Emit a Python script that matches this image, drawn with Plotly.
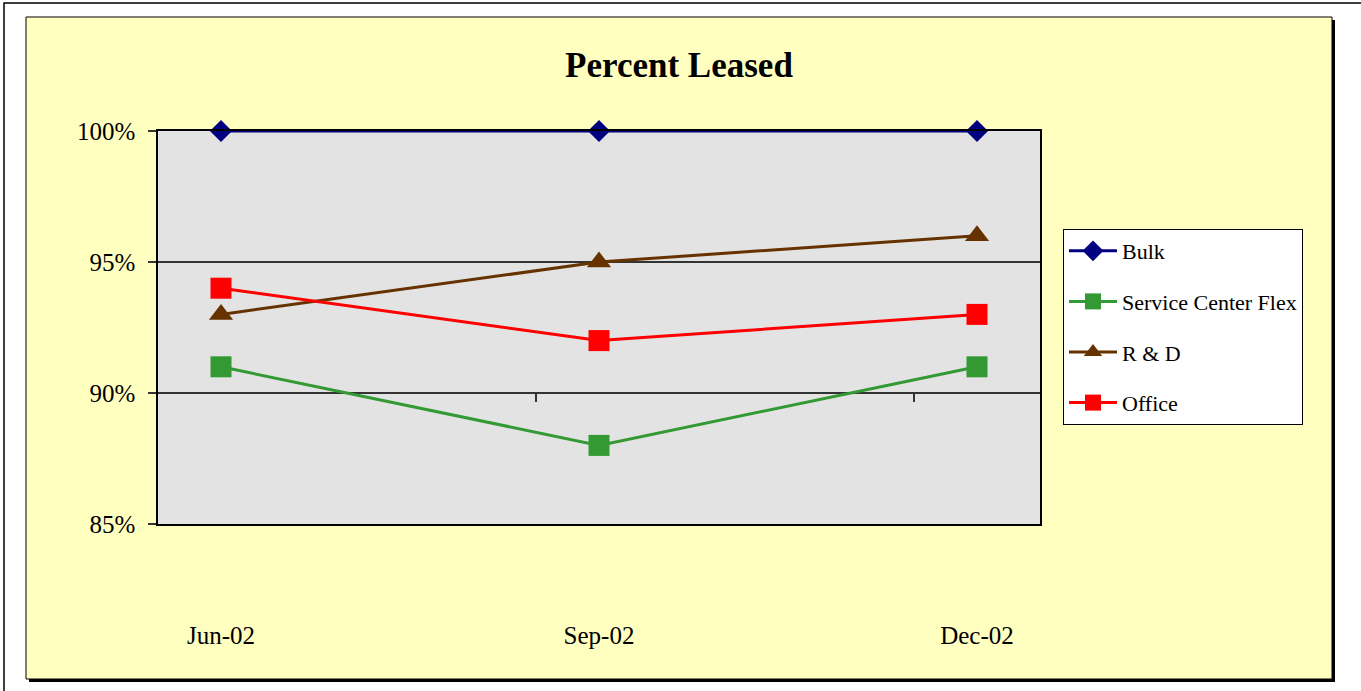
import plotly.graph_objects as go

# Quarter-end dates on the category axis
quarters = ["Jun-02", "Sep-02", "Dec-02"]

# Percent leased by property type (fractions)
bulk = [1.00, 1.00, 1.00]
service_center_flex = [0.91, 0.88, 0.91]
r_and_d = [0.93, 0.95, 0.96]
office = [0.94, 0.92, 0.93]

y_ticks = [0.85, 0.90, 0.95, 1.00]

W, H = 1361, 691
L, R, T, B = 158, 1040, 131, 524  # plot-area edges in pixels


def px_x(p):
    return (p - L) / (R - L)


def px_y(p):
    return (B - p) / (B - T)


SERIF = "Liberation Serif, Times New Roman, serif"

series = [
    ("Bulk", bulk, "#000080", "diamond", 17),
    ("Service Center Flex", service_center_flex, "#339933", "square", 21),
    ("R & D", r_and_d, "#663300", "triangle-up", 21),
    ("Office", office, "#FF0000", "square", 21),
]

fig = go.Figure()
for i, (name, vals, color, sym, size) in enumerate(series):
    fig.add_trace(go.Scatter(
        x=quarters, y=vals, name=name, mode="lines+markers",
        line=dict(color=color, width=3),
        marker=dict(symbol=sym, size=size, color=color, line=dict(width=0)),
        legendgroup=f"g{i}",
        cliponaxis=False,
    ))

shapes = [
    # outer page frame
    dict(type="rect", xref="paper", yref="paper",
         x0=px_x(4), x1=px_x(1368), y0=px_y(3), y1=px_y(698),
         line=dict(color="black", width=1.5), fillcolor="white", layer="below"),
    # chart-area drop shadow
    dict(type="rect", xref="paper", yref="paper",
         x0=px_x(29), x1=px_x(1335), y0=px_y(20), y1=px_y(682),
         line=dict(width=0), fillcolor="black", layer="below"),
    # chart area
    dict(type="rect", xref="paper", yref="paper",
         x0=px_x(26), x1=px_x(1332), y0=px_y(17), y1=px_y(679),
         line=dict(color="black", width=1), fillcolor="#FFFFC0", layer="below"),
    # plot area
    dict(type="rect", xref="paper", yref="paper",
         x0=0, x1=1, y0=0, y1=1,
         line=dict(width=0), fillcolor="#E3E3E3", layer="below"),
]

fig.update_layout(
    width=W, height=H,
    margin=dict(l=L, r=W - R, t=T, b=H - B, pad=0),
    paper_bgcolor="white",
    plot_bgcolor="#E3E3E3",
    shapes=shapes,
    title=dict(text="<b>Percent Leased</b>", x=px_x(679), xref="paper",
               y=1 - 65 / H, yref="container", xanchor="center", yanchor="middle",
               font=dict(family=SERIF, size=35, color="black")),
    font=dict(family=SERIF, color="black"),
    showlegend=True,
    legend=dict(
        x=px_x(1063), y=px_y(229), xanchor="left", yanchor="top",
        bgcolor="white", bordercolor="black", borderwidth=1,
        font=dict(family=SERIF, size=22, color="black"),
        tracegroupgap=19, itemwidth=48, traceorder="grouped",
        entrywidth=192, entrywidthmode="pixels",
    ),
    xaxis=dict(
        type="category", range=[-1 / 6, 2 + 1 / 6],
        showgrid=False, zeroline=False,
        showline=True, linecolor="black", linewidth=1.5, mirror=True,
        ticks="", ticklabelstandoff=88,
        tickfont=dict(family=SERIF, size=25, color="black"),
    ),
    xaxis2=dict(
        overlaying="x", anchor="free", position=1 / 3,
        range=[-1 / 6, 2 + 1 / 6], showgrid=False, zeroline=False,
        showline=False, showticklabels=False,
        tickvals=[5 / 6, 11 / 6], ticks="outside", ticklen=8,
        tickcolor="#333333", tickwidth=1.5,
    ),
    yaxis=dict(
        range=[0.85, 1.00], tickvals=y_ticks, tickformat=".0%",
        showgrid=True, gridcolor="#333333", gridwidth=1.5,
        zeroline=False,
        showline=True, linecolor="black", linewidth=1.5, mirror=True,
        ticks="outside", ticklen=8, tickcolor="#333333", tickwidth=1.5,
        ticklabelstandoff=8,
        tickfont=dict(family=SERIF, size=25, color="black"),
    ),
)

# invisible trace so the secondary tick axis is drawn
fig.add_trace(go.Scatter(x=[0], y=[None], xaxis="x2", showlegend=False,
                         hoverinfo="skip"))

fig.write_html("out.html")
